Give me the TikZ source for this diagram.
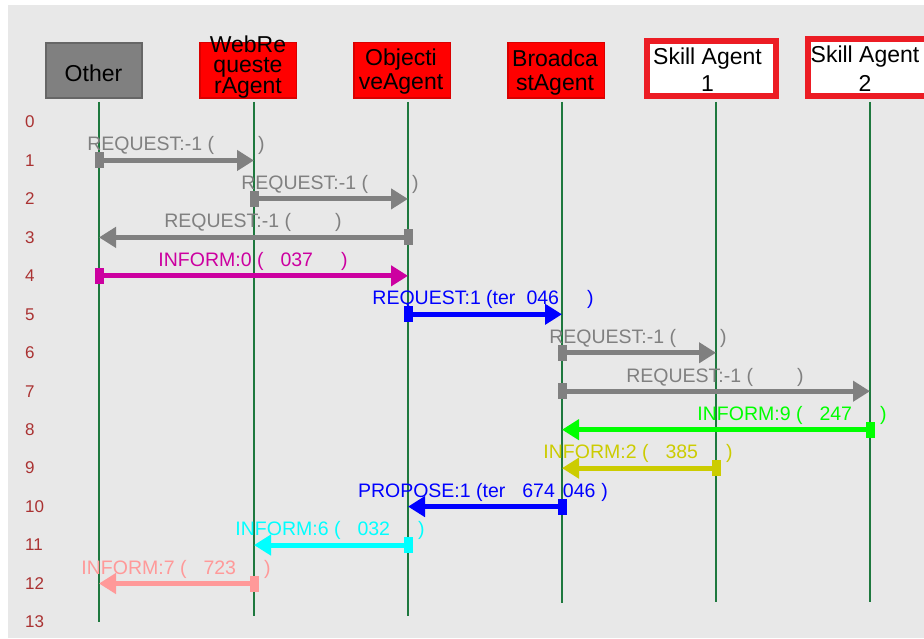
\documentclass[tikz,border=0pt]{standalone}
\usepackage{fontspec}
\setmainfont{Liberation Sans}
\usepackage{xcolor}
\usepackage{tikz}
\usetikzlibrary{arrows.meta}

\definecolor{panel}{RGB}{232,232,232}
\definecolor{boxgrey}{RGB}{128,128,128}
\definecolor{skillred}{RGB}{236,28,36}
\definecolor{lifegreen}{RGB}{30,120,62}
\definecolor{numred}{RGB}{170,50,50}
\definecolor{msggrey}{RGB}{128,128,128}
\definecolor{msgmagenta}{RGB}{204,0,160}
\definecolor{msgblue}{RGB}{0,0,255}
\definecolor{msggreen}{RGB}{0,255,0}
\definecolor{msgolive}{RGB}{204,204,0}
\definecolor{msgcyan}{RGB}{0,255,255}
\definecolor{msgsalmon}{RGB}{255,153,153}

\begin{document}
\begin{tikzpicture}[x=1pt,y=-1pt,
  otherbox/.style={draw=boxgrey!80!black,fill=boxgrey,line width=2pt,minimum width=96pt,minimum height=55pt,inner sep=0pt},
  redbox/.style={draw=red!85!black,fill=red,line width=1.5pt,minimum width=96.5pt,minimum height=55.5pt,inner sep=0pt},
  skillbox/.style={draw=skillred,fill=white,line width=6pt,minimum width=129pt,inner sep=0pt},
  boxtext/.style={align=center,inner sep=0pt,font=\fontsize{23}{24}\selectfont},
  life/.style={lifegreen,line width=1.5pt},
  rownum/.style={anchor=west,inner sep=0pt,text=numred,font=\fontsize{17}{17}\selectfont},
  msg/.style={line width=5pt,-{Triangle[length=17pt,width=20pt]}},
  lbl/.style={anchor=base,inner sep=0pt,font=\fontsize{19.5}{19.5}\selectfont}]
  \useasboundingbox (0,0) rectangle (924,639);
  \fill[panel] (8,5) rectangle (924,638);

  % agents
  \node[otherbox] (oth) at (94,70.5) {};
  \node[redbox] (web) at (248,70.5) {};
  \node[redbox] (obj) at (402,70.5) {};
  \node[redbox] (bro) at (556,70.5) {};
  \node[skillbox,minimum height=55pt] (sk1) at (711.5,68.5) {};
  \node[skillbox,minimum height=57pt] (sk2) at (872,67.5) {};
  \node[boxtext] (othtxt) at (93.5,73.5) {Other};
  \node[boxtext,font=\fontsize{23}{20}\selectfont] (webtxt) at (248,67) {WebRe\\queste\\rAgent};
  \node[boxtext] (objtxt) at (401,72) {Objecti\\veAgent};
  \node[boxtext] (brotxt) at (555,72.5) {Broadca\\stAgent};
  \node[boxtext,font=\fontsize{23}{27}\selectfont] (sk1txt) at (707.5,70) {Skill Agent\\1};
  \node[boxtext,font=\fontsize{23}{29}\selectfont] (sk2txt) at (865,69) {Skill Agent\\2};

  % lifelines
  \coordinate (lOth) at (99,102);
  \coordinate (lWeb) at (254,102);
  \coordinate (lObj) at (408,102);
  \coordinate (lBro) at (562,102);
  \coordinate (lSk1) at (716,102);
  \coordinate (lSk2) at (870,102);
  \foreach \r in {0,...,13}
    \node[rownum] (n\r) at (25,{122+38.46*\r}) {\r};
  \draw[life] (lOth) -- (lOth |- n13);
  \draw[life] (lWeb) -- ++(0,514);
  \draw[life] (lObj) -- ++(0,514);
  \draw[life] (lBro) -- ++(0,501);
  \draw[life] (lSk1) -- ++(0,500);
  \draw[life] (lSk2) -- ++(0,500);

  % 1
  \fill[msggrey] (lOth |- n1) +(-4.5,-8) rectangle +(4.5,8);
  \draw[msg,msggrey] (lOth |- n1) -- (lWeb |- n1);
  \node[lbl,text=msggrey] (m1) at (176,151) {REQUEST:-1 (\hspace{44pt})};
  % 2
  \fill[msggrey] (lWeb |- n2) +(-4.5,-8) rectangle +(4.5,8);
  \draw[msg,msggrey] (lWeb |- n2) -- (lObj |- n2);
  \node[lbl,text=msggrey] (m2) at (330,189.5) {REQUEST:-1 (\hspace{44pt})};
  % 3
  \fill[msggrey] (lObj |- n3) +(-4.5,-8) rectangle +(4.5,8);
  \draw[msg,msggrey] (lObj |- n3) -- (lOth |- n3);
  \node[lbl,text=msggrey] (m3) at (253,228) {REQUEST:-1 (\hspace{44pt})};
  % 4
  \fill[msgmagenta] (lOth |- n4) +(-4.5,-8) rectangle +(4.5,8);
  \draw[msg,msgmagenta] (lOth |- n4) -- (lObj |- n4);
  \node[lbl,text=msgmagenta] (m4) at (253,266.5) {INFORM:0 (\hspace{17pt}037\hspace{28pt})};
  % 5
  \fill[msgblue] (lObj |- n5) +(-4.5,-8) rectangle +(4.5,8);
  \draw[msg,msgblue] (lObj |- n5) -- (lBro |- n5);
  \node[lbl,text=msgblue] (m5) at (483,305) {REQUEST:1 (ter\hspace{11pt}046\hspace{28pt})};
  % 6
  \fill[msggrey] (lBro |- n6) +(-4.5,-8) rectangle +(4.5,8);
  \draw[msg,msggrey] (lBro |- n6) -- (lSk1 |- n6);
  \node[lbl,text=msggrey] (m6) at (638,343) {REQUEST:-1 (\hspace{44pt})};
  % 7
  \fill[msggrey] (lBro |- n7) +(-4.5,-8) rectangle +(4.5,8);
  \draw[msg,msggrey] (lBro |- n7) -- (lSk2 |- n7);
  \node[lbl,text=msggrey] (m7) at (715,382) {REQUEST:-1 (\hspace{44pt})};
  % 8
  \fill[msggreen] (lSk2 |- n8) +(-4.5,-8) rectangle +(4.5,8);
  \draw[msg,msggreen] (lSk2 |- n8) -- (lBro |- n8);
  \node[lbl,text=msggreen] (m8) at (792,420) {INFORM:9 (\hspace{17pt}247\hspace{28pt})};
  % 9
  \fill[msgolive] (lSk1 |- n9) +(-4.5,-8) rectangle +(4.5,8);
  \draw[msg,msgolive] (lSk1 |- n9) -- (lBro |- n9);
  \node[lbl,text=msgolive] (m9) at (638,458.5) {INFORM:2 (\hspace{17pt}385\hspace{28pt})};
  % 10
  \fill[msgblue] (lBro |- n10) +(-4.5,-8) rectangle +(4.5,8);
  \draw[msg,msgblue] (lBro |- n10) -- (lObj |- n10);
  \node[lbl,text=msgblue] (m10) at (483,497) {PROPOSE:1 (ter\hspace{17pt}674\hspace{8pt}046\hspace{6pt})};
  % 11
  \fill[msgcyan] (lObj |- n11) +(-4.5,-8) rectangle +(4.5,8);
  \draw[msg,msgcyan] (lObj |- n11) -- (lWeb |- n11);
  \node[lbl,text=msgcyan] (m11) at (330,535.5) {INFORM:6 (\hspace{17pt}032\hspace{28pt})};
  % 12
  \fill[msgsalmon] (lWeb |- n12) +(-4.5,-8) rectangle +(4.5,8);
  \draw[msg,msgsalmon] (lWeb |- n12) -- (lOth |- n12);
  \node[lbl,text=msgsalmon] (m12) at (176,574) {INFORM:7 (\hspace{17pt}723\hspace{28pt})};
\end{tikzpicture}
\end{document}
